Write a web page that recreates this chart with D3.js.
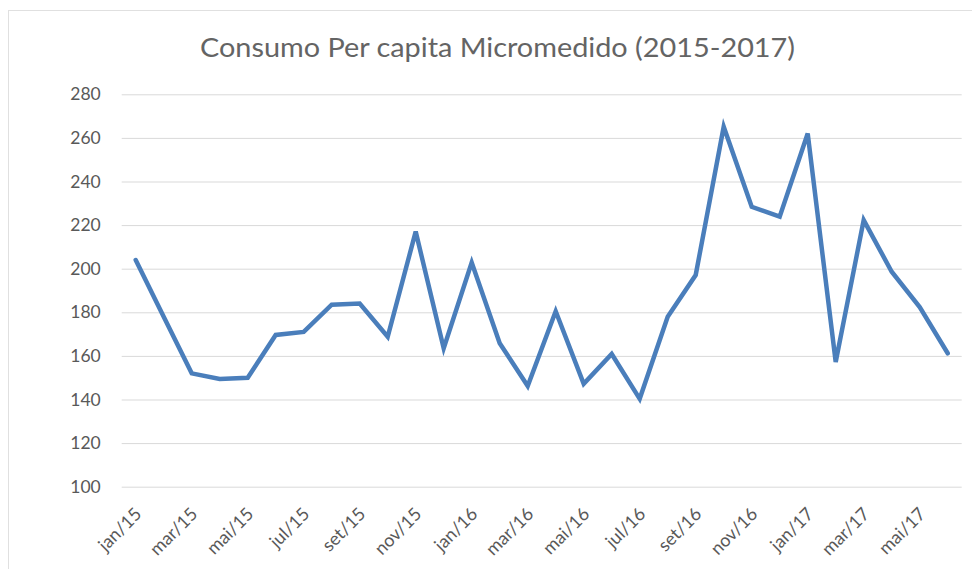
<!DOCTYPE html>
<html><head><meta charset="utf-8">
<script src="https://cdn.jsdelivr.net/npm/d3@7"></script>
<style>body{margin:0;background:#fff;}svg{display:block;}</style>
</head><body>
<svg id="c" width="972" height="569"></svg>
<script>
const months = ["jan/15","fev/15","mar/15","abr/15","mai/15","jun/15","jul/15","ago/15","set/15","out/15","nov/15","dez/15",
"jan/16","fev/16","mar/16","abr/16","mai/16","jun/16","jul/16","ago/16","set/16","out/16","nov/16","dez/16",
"jan/17","fev/17","mar/17","abr/17","mai/17","jun/17"];
const values = [204,178,152,149.4,150,169.6,171,183.5,184,168.8,217,163.5,
202.8,165.8,146.2,180.5,147.2,160.9,140.3,178,197.1,265.1,228.4,223.9,
262,157.2,222.3,198.6,182.4,161.2];
const yTicks = [100,120,140,160,180,200,220,240,260,280];
const tickLabels = ["jan/15","mar/15","mai/15","jul/15","set/15","nov/15","jan/16","mar/16","mai/16","jul/16","set/16","nov/16","jan/17","mar/17","mai/17"];
const title = "Consumo Per capita Micromedido (2015-2017)";

const svg = d3.select("#c");
svg.append("rect").attr("x",8.5).attr("y",10.5).attr("width",1000).attr("height",600)
  .attr("fill","#fff").attr("stroke","#e0e0e0");

const x = d3.scalePoint().domain(months).range([121.7,961.7]).padding(0.5);
const y = d3.scaleLinear().domain([100,280]).range([486.7,94.3]);

const font = "Lato, 'Open Sans', sans-serif";
svg.append("text").attr("x",200).attr("y",57).attr("text-anchor","start")
  .attr("textLength",595).attr("lengthAdjust","spacingAndGlyphs")
  .attr("font-family",font).attr("font-size",27.5).attr("fill","#646464").text(title);

const gy = svg.append("g").attr("transform","translate(121.7,0)")
  .call(d3.axisLeft(y).tickValues(yTicks).tickSize(-840).tickPadding(21));
gy.select(".domain").remove();
gy.selectAll(".tick line").attr("stroke","#d9d9d9").attr("stroke-width",1);
gy.selectAll(".tick text").attr("font-family",font).attr("font-size",17.5).attr("fill","#595959");

const gx = svg.append("g").attr("transform","translate(0,486.7)")
  .call(d3.axisBottom(x).tickValues(tickLabels).tickSize(0));
gx.select(".domain").remove();
gx.selectAll(".tick text").attr("font-family",font).attr("font-size",18).attr("fill","#595959")
  .attr("text-anchor","end").attr("x",0).attr("y",0).attr("dy","0.35em")
  .attr("transform","translate(2,24) rotate(-45)");

const line = d3.line().x((d,i)=>x(months[i])).y(d=>y(d));
svg.append("path").datum(values).attr("d",line).attr("fill","none")
  .attr("stroke","#4a7ebb").attr("stroke-width",4.5).attr("stroke-linejoin","miter").attr("stroke-linecap","round");
</script>
</body></html>
